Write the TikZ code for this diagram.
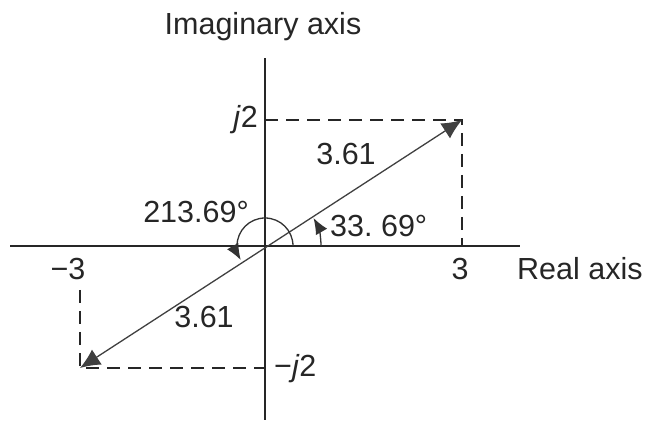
\documentclass[tikz,border=0pt]{standalone}
\usepackage{fontspec}
\setmainfont{Liberation Sans}
\usetikzlibrary{arrows.meta,calc}
\begin{document}
\begin{tikzpicture}[x=1pt,y=1pt,
  every node/.style={font=\fontsize{30.5}{34}\selectfont, inner sep=0pt, text=black!85},
  axisline/.style={line width=1.6pt, draw=black!85},
  guide/.style={line width=1.6pt, draw=black!85, dash pattern=on 13pt off 8pt},
  vec/.style={line width=1.3pt, draw=black!75, {Latex[length=20pt,width=18pt]}-{Latex[length=20pt,width=18pt]}},
  angarr/.style={line width=1.3pt, draw=black!80, -{Latex[length=16pt,width=13pt]}}]
\useasboundingbox (0,0) rectangle (646,422);
\coordinate (O) at (265,176);
\coordinate (P) at (462,302);
\coordinate (Q) at (80,54);
\coordinate (XL) at (10,176);
\coordinate (XR) at (520,176);
\coordinate (YT) at (265,364);
\coordinate (YB) at (265,2);
\coordinate (PY) at (265,302);
\coordinate (PX) at (462,176);
\coordinate (QX) at (80,132);
\coordinate (QY) at (265,54);
% axes
\draw[axisline] (XL) -- (XR);
\draw[axisline] (YB) -- (YT);
% guides
\draw[guide] (PY) -- (P) -- (PX);
\draw[guide] (QX) -- (Q) -- (QY);
% vector
\draw[vec] (Q) -- (P);
% angle arcs
\draw[angarr] ($(O)+(56,0)$) arc[start angle=0, end angle=30, radius=56];
\draw[angarr] ($(O)+(28,0)$) arc[start angle=0, end angle=210, radius=28];
% labels
\node[anchor=base] (title) at (263,387) {Imaginary axis};
\node[anchor=base east] (j2) at (258,294) {\textit{j}2};
\node[anchor=base west] (mj2) at (274,45) {\textminus\textit{j}2};
\node[anchor=base] (three) at (460,142) {3};
\node[anchor=base] (mthree) at (68,142) {\textminus3};
\node[anchor=base west] (real) at (517,142) {Real axis};
\node[anchor=base] (mag1) at (346,257) {3.61};
\node[anchor=base] (mag2) at (204,94) {3.61};
\node[anchor=base] (big) at (196,199) {213.69\textdegree};
\node[anchor=base west] (small) at (330,185) {33.\ 69\textdegree};
\end{tikzpicture}
\end{document}
